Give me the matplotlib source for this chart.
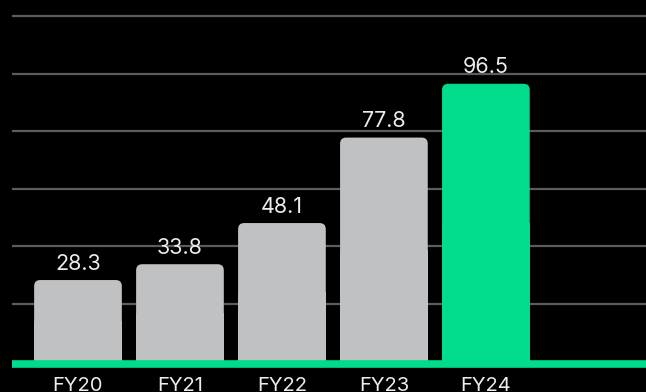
import matplotlib.pyplot as plt
from matplotlib.patches import FancyBboxPatch, Rectangle

# Revenue by fiscal year
years = ["FY20", "FY21", "FY22", "FY23", "FY24"]
values = [28.3, 33.8, 48.1, 77.8, 96.5]
grid_levels = [20, 40, 60, 80, 100, 120]

GRAY = "#bfc1c3"
GREEN = "#00dc8c"
BG = "#000000"

plt.rcParams["font.family"] = ["Inter", "DejaVu Sans"]

fig = plt.figure(figsize=(6.46, 3.92), dpi=100, facecolor=BG)
ax = fig.add_axes([12 / 646, 0, 1 - 12 / 646, 1])
ax.set_facecolor(BG)
x_lo, x_hi = -0.647, 5.57
ax.set_xlim(x_lo, x_hi)
ax.set_ylim(-10.6, 125.6)
ax.axis("off")

for g in grid_levels:
    ax.axhline(g, color="#5c5c5c", lw=1.6, zorder=1)

colors = [GRAY] * (len(values) - 1) + [GREEN]
bars = ax.bar(range(len(years)), values, width=0.86, color=colors)

# swap the plain rectangles for boxes with rounded tops
px_x = 102.0   # pixels per category
px_y = 2.88    # pixels per value unit
r = 0.06       # corner radius in category units
for rect, col in zip(bars, colors):
    rect.set_visible(False)
    x0 = rect.get_x()
    w = rect.get_width()
    h = rect.get_height()
    ax.add_patch(FancyBboxPatch(
        (x0, -1), w, h + 1,
        boxstyle=f"round,pad=0,rounding_size={r}",
        mutation_aspect=px_x / px_y,
        facecolor=col, edgecolor="none", zorder=2,
    ))
    # square off the bottom corners
    ax.add_patch(Rectangle((x0, -1), w, h / 2 + 1, facecolor=col,
                           edgecolor="none", zorder=2))

for i, v in enumerate(values):
    ax.annotate(f"{v}", (i, v), xytext=(0, 7.5), textcoords="offset points",
                ha="center", va="baseline", fontsize=15.5, color="#ececec", zorder=4)

for i, name in enumerate(years):
    ax.text(i, -5.3, name, ha="center", va="top", fontsize=14.5,
            color="#ececec", zorder=4)

# green baseline
ax.plot([x_lo, x_hi], [-0.9, -0.9], color=GREEN, lw=5.5,
        solid_capstyle="round", zorder=3)

fig.savefig("out.png", dpi=100, facecolor=BG)
